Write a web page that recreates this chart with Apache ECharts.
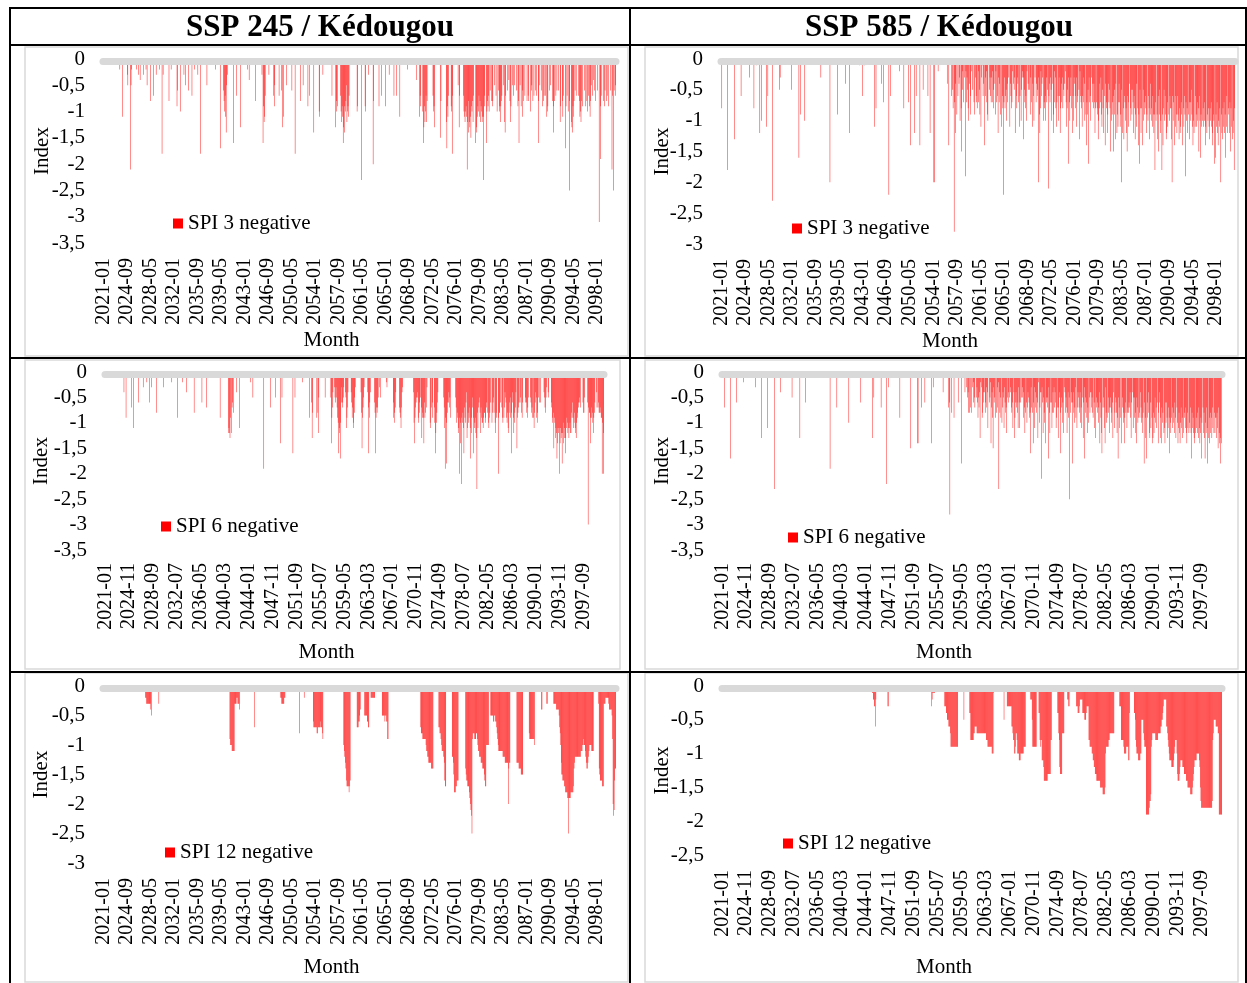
<!DOCTYPE html>
<html>
<head>
<meta charset="utf-8">
<title>SPI negative - Kedougou</title>
<script src="https://cdn.jsdelivr.net/npm/echarts@6/dist/echarts.min.js"></script>
<style>
html, body { margin: 0; padding: 0; background: #fff; }
#container { width: 1247px; height: 983px; }
</style>
</head>
<body>
<div id="container"></div>
<script>
// one string per year (2021..2100), one char per month
// '0' = SPI not negative (no bar), '1'..'9' = -0.1..-0.9, 'A' = -1.0, 'B' = -1.1 ... (base 36 / 10)
var spi3_245 = [
 "000000000000","000000000000","000000120000","B00000000350","000L52100000","002000300410","010300002050","000080000070",
 "000300000200","00I030000000","000800020000","000000960000","A00000030050","000060000070","000200000300","00I000000000",
 "005000000000","000000200000","000H0000068A","7BE530000000","0000G0000700","00000D000000","000000200400","000000000800",
 "00000000030G","9CB700000030","000000079500","00000700006D","0B0000050000","00000600000I","000000000800","005000000009",
 "0070000000E0","00000000AB00","000300000000","000000007000","000D8A900000","7AC9BGDE9A85","CA9B70000000","0000000A9000",
 "000N0000009A","000030000000","0K8000000000","900007000000","900000030000","000070000700","000B00000000","000002000000",
 "000000000040","0000B79000AG","D9CA7C800000","000007A9D000","0000000F8000","000000CH9B70","0009AI700000","000050D70000",
 "007ABCA9BLC8","ECDBF9A8C700","0GDEB9A7B8C9","ACBBN9700GA8","97A060089800","50070A0069AC","9870050CE700","060408C90050",
 "7050060098G0","50906B800700","0807800A0650","80700607008G","050060908700","70BA90060500","089E80070600","600C9008B700",
 "0H9070A0P800","CDE9B8060700","0708BAC80900","060908A0709B","850704060800","0600V0J90700","809600870900","0600L70P6075"
];
var spi3_585 = [
 "080000000000","I00000000000","0D0000000000","060000000000","000003000000","080000100000","C00A00000000","B00600000000",
 "N00000000000","053000000000","000000000005","000000000000","0G0090000000","A00000000000","000000000000","000000300000",
 "00000000000K","000000000000","090000000000","000040000000","C00000000000","000000100000","600010000000","0000000000B0",
 "080000000004","000700000000","0M0060000000","000000000200","000008000000","00700E000000","0C006000000E","000005000000",
 "006000C00000","0KK000000200","000000000000","00400E000060","580S7C409060","43A08F257030","J27358A04690","250079036780",
 "72590B301640","E36279A00536","737285049270","6C37490B068M","73865A47030B","468720453C06","83470B60A532","D35786A20450",
 "59370B46A030","7465K39C8264","30A786A3750L","64735A40C927","38B706A36C84","738564027B85","H37A6380C6A3","468B37605D26",
 "78B6374A09E7","95H376A03748","47C80789DA84","739B58C06E47","8C94758F0A97","6F59D40C9B74","7B9K5C08D67A","8CF67B048A59",
 "57C68D94B08E","9H58C80E5A97","68C90A68D94A","8B69C9I7A09D","6F59CA0I9E85","A69DC7B09A68","8DK6A70EB69C","69AD8CB79E08",
 "B69J7A8C09D7","7A59BEAC0B69","B7A8F6AG9B0A","8B7AEB0C9A8B","D8A7BEC9AH0G","9B7CEA8B0K9C","D8B7C9G6B0C8","9C7F8B0DCAI8"
];
var spi6_245 = [
 "000000000000","000000000000","000000000000","400090000000","000700B00000","000060000000","030000002000","060003000000",
 "000800000000","000030000000","000000002000","000000090000","000002000000","400000000000","000800000000","000000600000",
 "000700000000","000000000000","000009000000","000000000CBC","D90C76080000","040000B00000","000000000000","000200005000",
 "000000000000","00000J000000","000000700000","000500000000","0E0050000000","000000000000","0G0005000000","000000020000",
 "000000000900","06D800000009","08C500000000","000500000000","005E97400356","3579AGBCHA63","67530045B974","000004697AB8",
 "530000000000","48F975300000","047G96400000","0068G9787500","350000000000","023000000000","0069A8740000","00789B743000",
 "000000000000","000004AE9765","549A86057D98","9E6980730000","0AB7096007AG","CA8640000000","00057BJ9AI86","647590000000",
 "0057A89CB9KE","AM9A8BG79A64","DB8A97BH9C75","9GBA9CDN8B76","58C79AAB988A","96780AB98600","A86580AC8900","9K8860079A09",
 "74569A8BC865","9G8649CA8740","F98760650896","000065689750","005687909B86","459A85006600","000045785300","450000679A8F",
 "9ADBCHEBCBKE","BDCICAEDBGDB","9ACBDBACC896","9BA8BCDA9876","567000068850","00006U7889E9","78AC98600470","76887899KACK"
];
var spi6_585 = [
 "000070000000","0000H0000000","000600010000","000002000000","000000000000","000030000000","000D00000000","000B00000000",
 "0000N0000000","000040000000","000000000000","005000000000","00000D000000","000060000000","000000000000","000000000000",
 "000000000000","000J00000000","000070000000","000000000000","000A00000000","000000000000","006000000000","000000000000",
 "D00500000000","000007000000","000M00030000","000000000000","000009000000","000000000000","00F000000000","000EE0000007",
 "000006000000","000000E00300","000000000000","000040000000","00706S008000","090000000600","000I00000040","030548080780",
 "036257005369","574D20398640","468374B00652","E749F3650980","372N48590A74","5B3687C05640","534786B04D96","4768B36B0650",
 "35947C806A74","5698G3708E63","B47856D20A74","4L36C58A0E65","57H38C606B84","83746B907D75","48G57A6C0348","57C8495P0846",
 "6I48A7390B74","5784A7B50D63","H5869C7A0584","4758906B0D75","68A74E69CG07","57BE38A90857","C57A86D40B85","68C9H57B90E0",
 "57A8E9680B87","86749D640B59","58CE57A90894","7A9C80I69DH0","6948CD6B09ED","8C95A7B60E84","69DE7A80CBE6","A69DB79GCA09",
 "7BA8C69D07AE","B8CEA7B9D0C8","9B7CE8B0CAB7","CH8B9CDE0C9B","8CD7BEC9HA07","C8DHAC7BID09","E8C9D7B0C8C9","9D8BF7CEDI0E"
];
var spi12_245 = [
 "000000000000","000000000000","000000000000","000000000000","000000000000","000000000000","000000022333","333334500000",
 "000000003000","000000000000","000000000000","000000000000","000000000000","000000000000","000000000000","000000000000",
 "000000000000","000000000000","000000000000","0000000009AA","ABBBBB333232","333400000000","000000000000","000000070000",
 "000000000000","000001000000","000000000000","000000002233","333220000000","000000000000","000000080000","000020000000",
 "000000000677","777788777767","778900000000","000000000000","000000000000","000000ABCDEG","HHHHIHG00000","000000077766",
 "540000000555","556677000222","222221100000","000000555556","556699000000","000000000000","000000000000","000000000000",
 "000000000000","000000788899","9999ABBCCDDD","DDEEEE000000","000077889ABB","BCDGHH000000","00000CCDFIII","HHGGG0000000",
 "000000EFGGHH","HIJKLMP98889","99889ABBCCCD","DDEEEFGHHAAA","AA0005555566","5566789ABBBB","BBBBCCCCDDDD","DDKEDD000000",
 "000000DDDDEE","EEFFFF000000","000008999999","999A00000000","000044000000","003300000000","000333334444","4578ADFFGGGH",
 "HIIIIJJPJJJI","IIIIHEDCCCCC","CCCCCCBBBAA9","AABCDEEDCBAA","AABBBB000000","0003EFGGGGHH","H33322222234","444459KMLGEE"
];
var spi12_585 = [
 "000000000000","000000000000","000000000000","000000000000","000000000000","000000000000","000000000000","000000000000",
 "000000000000","000000000000","000000000000","000000000000","000000000000","000000000000","000000000000","000000000000",
 "000000000000","000000000000","000000000000","000000000000","000000000000","000000000000","000000000000","000000000000",
 "112233620000","000000000000","000000330000","000000000000","000000000000","000000000000","000000000000","000000000000",
 "000000000000","000000321111","100000000000","000000033344","555666799999","999999999000","000000005000","000000044888",
 "888776666777","777777777777","777888999999","99AAA1000000","000000000000","050000033333","333366788AA9","778AAABBBAAA",
 "AAA999900000","000022259999","999900004489","88BBBCEEEEEE","EDDDDDD88000","000000004478","CDDDD7777000","000223300000",
 "000000003334","443222224444","555433338899","99AABBCCDDDE","EEEEEEFFFFFG","GGGFA9999988","777777777000","000000033388",
 "8889AAAA9999","BB4000000004","4589AAABBBBA","A555578999JJ","JJJJIHHG9877","777788888777","776655432222","266789ABBBBC",
 "CCCBA9888ADE","EEDCBBBBCCCD","DDDEEEFFFFFG","GGGFEDCBBBBA","AAAABCFHIIII","IIIIIIIIIIII","IIIIIH875555","666677JJJJJJ"
];

var headers = ['SSP 245 / Kédougou', 'SSP 585 / Kédougou'];
var FONT = "'Liberation Serif', 'Times New Roman', serif";

// month categories 2021-01 .. 2100-12
var months = [];
for (var y = 2021; y <= 2100; y++) {
  for (var m = 1; m <= 12; m++) months.push(y + '-' + (m < 10 ? '0' + m : m));
}

function decode(years) {
  var out = [];
  years.forEach(function (s) {
    s = (s + '000000000000').slice(0, 12);
    for (var i = 0; i < 12; i++) {
      var c = s.charAt(i);
      out.push(c === '0' ? null : -parseInt(c, 36) / 10);
    }
  });
  return out;
}

// layout of each panel
var panels = [
  { values: spi3_245,  name: 'SPI 3 negative',  left: 103, top: 59,  width: 513, height: 184, min: -3.5, step: 44, lm: 15, mg: 87,  ig: 50, lg: [173, 213] },
  { values: spi3_585,  name: 'SPI 3 negative',  left: 721, top: 59,  width: 514, height: 185, min: -3,   step: 44, lm: 15, mg: 87,  ig: 48, lg: [792, 218] },
  { values: spi6_245,  name: 'SPI 6 negative',  left: 105, top: 372, width: 499, height: 178, min: -3.5, step: 46, lm: 13, mg: 92,  ig: 53, lg: [161, 516] },
  { values: spi6_585,  name: 'SPI 6 negative',  left: 722, top: 372, width: 500, height: 178, min: -3.5, step: 46, lm: 13, mg: 92,  ig: 49, lg: [788, 527] },
  { values: spi12_245, name: 'SPI 12 negative', left: 103, top: 686, width: 513, height: 177, min: -3,   step: 44, lm: 15, mg: 94,  ig: 51, lg: [165, 842] },
  { values: spi12_585, name: 'SPI 12 negative', left: 722, top: 686, width: 500, height: 169, min: -2.5, step: 46, lm: 15, mg: 102, ig: 49, lg: [783, 833] }
];

var chart = echarts.init(document.getElementById('container'));

var option = {
  animation: false,
  backgroundColor: '#fff',
  grid: [], xAxis: [], yAxis: [], series: [], legend: [], graphic: []
};

panels.forEach(function (p, i) {
  option.grid.push({ left: p.left, top: p.top, width: p.width, height: p.height, outerBoundsMode: 'none' });
  // bottom axis with month labels
  option.xAxis.push({
    type: 'category', gridIndex: i, data: months, position: 'bottom',
    axisLine: { show: false, onZero: false }, axisTick: { show: false }, splitLine: { show: false },
    axisLabel: { interval: p.step - 1, rotate: 90, margin: p.lm, fontSize: 20, fontFamily: FONT, color: '#000' },
    name: 'Month', nameLocation: 'middle', nameGap: p.mg, nameMoveOverlap: false,
    nameTextStyle: { fontSize: 21, fontFamily: FONT, color: '#000', padding: [0, 56, 0, 0] }
  });
  // grey zero line at the top
  option.xAxis.push({
    type: 'category', gridIndex: i, data: months, position: 'top', offset: -2, z: 10,
    axisLine: { show: true, onZero: false, lineStyle: { color: '#d9d9d9', width: 7 } },
    axisTick: { show: false }, axisLabel: { show: false }, splitLine: { show: false }
  });
  option.yAxis.push({
    type: 'value', gridIndex: i, min: p.min, max: 0, interval: 0.5,
    axisLine: { show: false }, axisTick: { show: false }, splitLine: { show: false },
    axisLabel: {
      margin: 18, fontSize: 21, fontFamily: FONT, color: '#000',
      formatter: function (v) { return String(v).replace('.', ','); }
    },
    name: 'Index', nameLocation: 'middle', nameGap: p.ig, nameRotate: 90, nameMoveOverlap: false,
    nameTextStyle: { fontSize: 21, fontFamily: FONT, color: '#000' }
  });
  option.series.push({
    type: 'bar', name: p.name, xAxisIndex: 2 * i, yAxisIndex: i,
    data: decode(p.values), large: false, silent: true,
    barCategoryGap: '15%', barMinWidth: 0.01,
    itemStyle: { color: '#ff0000' }
  });
  option.legend.push({
    data: [p.name], left: p.lg[0], top: p.lg[1], padding: 0,
    icon: 'rect', itemWidth: 10, itemHeight: 10, itemStyle: { borderWidth: 0 },
    textStyle: { fontSize: 21, fontFamily: FONT, color: '#000' }
  });
});

// table frame and chart area borders
var boxes = [[25, 47, 603, 309], [645, 47, 593, 309], [25, 360, 595, 309], [645, 360, 593, 309], [25, 673, 603, 309], [645, 673, 593, 309]];
boxes.forEach(function (b) {
  option.graphic.push({ type: 'rect', shape: { x: b[0], y: b[1], width: b[2], height: b[3] }, style: { fill: 'none', stroke: '#d9d9d9', lineWidth: 1.5 } });
});
var lines = [[9, 8, 1247, 8], [10, 8, 10, 983], [10, 45, 1247, 45], [630, 8, 630, 983], [1246, 8, 1246, 983], [10, 358, 1247, 358], [10, 672, 1247, 672]];
lines.forEach(function (l) {
  option.graphic.push({ type: 'line', shape: { x1: l[0], y1: l[1], x2: l[2], y2: l[3] }, style: { stroke: '#000', lineWidth: 2 }, z: 100 });
});
option.graphic.push({ type: 'text', x: 320, y: 28, style: { text: headers[0], font: 'bold 31px ' + FONT, fill: '#000', align: 'center', verticalAlign: 'middle', textAlign: 'center', textVerticalAlign: 'middle' } });
option.graphic.push({ type: 'text', x: 939, y: 28, style: { text: headers[1], font: 'bold 31px ' + FONT, fill: '#000', align: 'center', verticalAlign: 'middle', textAlign: 'center', textVerticalAlign: 'middle' } });

chart.setOption(option);
</script>
</body>
</html>
